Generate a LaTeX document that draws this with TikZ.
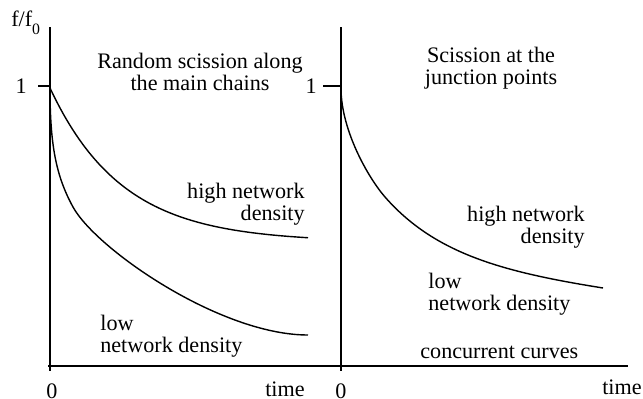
\documentclass[tikz,border=0pt]{standalone}
\usepackage{fontspec}
\setmainfont{Liberation Serif}
\begin{document}
\begin{tikzpicture}[x=0.02cm,y=-0.02cm,font=\fontsize{12.6}{12.5}\selectfont,
  curve/.style={line width=0.8pt},
  lbl/.style={inner sep=0pt}]
\useasboundingbox (0,0) rectangle (643,399);
% axes
\draw[line width=1.6pt] (50,27) -- (50,371);
\draw[line width=1.1pt] (341,27) -- (341,371);
\draw[line width=1pt] (48,366) -- (628,366);
\draw[line width=0.8pt] (38,86) -- (50,86) (323,86) -- (341,86);
\node[lbl,anchor=east] (oneA) at (27,86) {1};
\node[lbl,anchor=east] (oneB) at (317,86) {1};
\node[lbl,anchor=base west] (ratio) at (11,27) {f/f\raisebox{-0.7ex}{\small 0}};
% left panel
\node[lbl,align=center] (titleA) at (200,72) {Random scission along\\the main chains};
\draw[curve,domain=50:308,samples=80] plot (\x,{242-154*exp(-(\x-50)/72)});
\draw[curve] (50,88) .. controls (50,145) and (56,176) .. (73,207)
  .. controls (96,249) and (220,335) .. (308,335);
\node[lbl,align=right,anchor=east] (highA) at (305,204) {high network\\density};
\node[lbl,align=left,anchor=west] (lowA) at (100,336) {low\\network density};
\node[lbl] (zeroA) at (52,391) {0};
\node[lbl] (timeA) at (285,389) {time};
% right panel
\node[lbl,align=center] (titleB) at (491,68) {Scission at the\\junction points};
\draw[curve] (341,88) .. controls (341,130) and (368,177.4) .. (385,197)
  .. controls (435,254) and (503,272) .. (603,288);
\node[lbl,align=right,anchor=east] (highB) at (585,227) {high network\\density};
\node[lbl,align=left,anchor=west] (lowB) at (428,294) {low\\network density};
\node[lbl,anchor=base west] (conc) at (420,358) {concurrent curves};
\node[lbl] (zeroB) at (341,391) {0};
\node[lbl] (timeB) at (622,387) {time};
\end{tikzpicture}
\end{document}
